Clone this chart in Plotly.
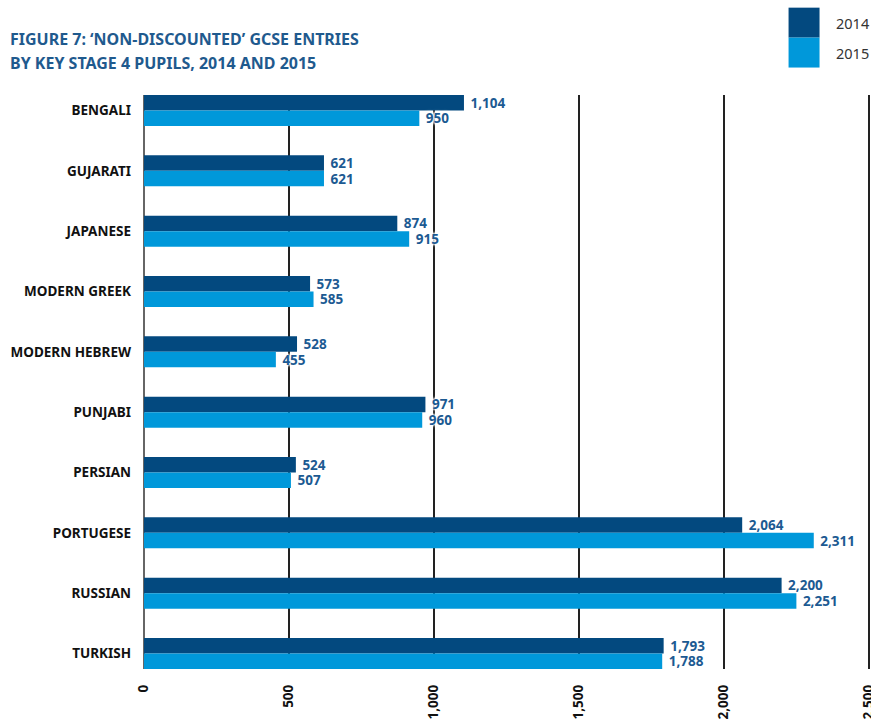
import plotly.graph_objects as go

categories = ["BENGALI", "GUJARATI", "JAPANESE", "MODERN GREEK", "MODERN HEBREW",
              "PUNJABI", "PERSIAN", "PORTUGESE", "RUSSIAN", "TURKISH"]
values_2014 = [1104, 621, 874, 573, 528, 971, 524, 2064, 2200, 1793]
values_2015 = [950, 621, 915, 585, 455, 960, 507, 2311, 2251, 1788]
series_names = ["2014", "2015"]
tick_vals = [0, 500, 1000, 1500, 2000, 2500]
tick_text = ["0", "500", "1,000", "1,500", "2,000", "2,500"]
title_lines = ["FIGURE 7: ‘NON-DISCOUNTED’ GCSE ENTRIES", "BY KEY STAGE 4 PUPILS, 2014 AND 2015"]

DARK = "#03497F"
LIGHT = "#0098DA"
LABEL = "#1C5A92"
FONT = "Noto Sans"
HALO = "white 0px 0px 2px, white 0px 0px 2px, white 0px 0px 3px, white 0px 0px 3px, white 0px 0px 4px"

fig = go.Figure()
for name, vals, col in [(series_names[0], values_2014, DARK), (series_names[1], values_2015, LIGHT)]:
    fig.add_trace(go.Bar(
        y=categories, x=vals, name=name, orientation="h",
        marker=dict(color=col, line=dict(width=0)),
        text=["\u00a0" + f"{v:,}" for v in vals], textposition="outside", constraintext="none",
        textfont=dict(family=FONT, size=13.5, color=LABEL, weight="bold", shadow=HALO),
        cliponaxis=False, showlegend=False, hoverinfo="skip",
    ))

L, R, T, B = 144, 0.5, 94.5, 57.5
PW = 871 - L - R
PH = 727 - T - B
def py(p):
    return (727 - B - p) / PH
def px(p):
    return (p - L) / PW

shapes = [
    dict(type="rect", xref="paper", yref="paper", x0=px(789), x1=px(820), y0=py(37), y1=py(7),
         fillcolor=DARK, line=dict(width=0)),
    dict(type="rect", xref="paper", yref="paper", x0=px(789), x1=px(820), y0=py(67), y1=py(37),
         fillcolor=LIGHT, line=dict(width=0)),
]
annotations = [
    dict(xref="paper", yref="paper", x=px(834), y=py(22), text=series_names[0], showarrow=False,
         xanchor="left", yanchor="middle", font=dict(family=FONT, size=14.5, color="#333333")),
    dict(xref="paper", yref="paper", x=px(834), y=py(52), text=series_names[1], showarrow=False,
         xanchor="left", yanchor="middle", font=dict(family=FONT, size=14.5, color="#333333")),
]
for line, ypix in zip(title_lines, [38, 62]):
    annotations.append(dict(xref="paper", yref="paper", x=px(8), y=py(ypix), text=line,
                            showarrow=False, xanchor="left", yanchor="middle",
                            font=dict(family=FONT, size=16, color="#1F5A8E", weight="bold")))

fig.update_layout(
    width=871, height=727,
    margin=dict(l=L, r=R, t=T, b=B, autoexpand=False),
    paper_bgcolor="white", plot_bgcolor="white",
    barmode="group", bargap=0.487, bargroupgap=0,
    hovermode=False,
    xaxis=dict(range=[0, 2505], tickvals=tick_vals, ticktext=tick_text, tickangle=-90,
               showgrid=True, gridcolor="#222222", gridwidth=1.5, automargin=False,
               zeroline=True, zerolinecolor="#666666", zerolinewidth=1.5,
               showline=False, ticks="", ticklabelstandoff=12, fixedrange=True,
               ticklabeloverflow="allow",
               tickfont=dict(family=FONT, size=13.5, color="#111111", weight="bold")),
    yaxis=dict(range=[9.257, -0.257], showgrid=False, zeroline=False, showline=False,
               ticks="", ticklabelstandoff=12, automargin=False, fixedrange=True,
               tickfont=dict(family=FONT, size=13.5, color="#111111", weight="bold")),
    shapes=shapes, annotations=annotations,
    showlegend=False,
)

fig.write_html("out.html", config={"displayModeBar": False},
               post_script="document.body.style.margin='0';")
